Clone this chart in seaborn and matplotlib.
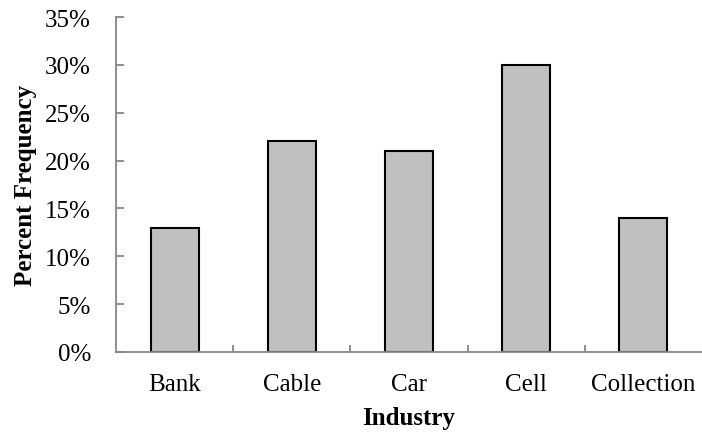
import matplotlib
matplotlib.use("Agg")
import matplotlib.pyplot as plt
import seaborn as sns
import pandas as pd
from matplotlib.ticker import FixedLocator, FuncFormatter

categories = ["Bank", "Cable", "Car", "Cell", "Collection"]
values = [13, 22, 21, 30, 14]
y_ticks = [0, 5, 10, 15, 20, 25, 30, 35]

sns.set_theme(style="white")
plt.rcParams["font.family"] = ["Liberation Serif", "DejaVu Serif"]
plt.rcParams["text.color"] = "black"
plt.rcParams["axes.labelcolor"] = "black"

df = pd.DataFrame({"Industry": categories, "Percent": values})

fig = plt.figure(figsize=(7.02, 4.35), dpi=100)
ax = fig.add_axes([116/702, 82/435, 1 - 116/702, (353-18)/435])

sns.barplot(data=df, x="Industry", y="Percent", color="#C0C0C0",
            edgecolor="black", linewidth=1.5, width=0.41, saturation=1, ax=ax)

ax.set_xlim(-0.5, 4.5)
ax.set_ylim(0, 35)
ax.set_yticks(y_ticks)
ax.yaxis.set_major_formatter(FuncFormatter(lambda v, p: f"{int(v)}%"))

for s in ["top", "right"]:
    ax.spines[s].set_visible(False)
for s in ["left", "bottom"]:
    ax.spines[s].set_color("#868686")
    ax.spines[s].set_linewidth(1.3)

ax.tick_params(axis="y", direction="in", length=6, width=1.3, color="#868686",
               labelsize=18, pad=18, left=True, labelcolor="black")
ax.tick_params(axis="x", which="major", length=0, labelsize=18, pad=15, labelcolor="black")
ax.xaxis.set_minor_locator(FixedLocator([0.5, 1.5, 2.5, 3.5]))
ax.tick_params(axis="x", which="minor", direction="in", length=5, width=1.3,
               color="#868686", bottom=True)

ax.set_xlabel("Industry", fontsize=18, fontweight="bold", color="black")
ax.set_ylabel("Percent Frequency", fontsize=18, fontweight="bold", color="black")
ax.xaxis.set_label_coords(0.5, -0.16)
ax.yaxis.set_label_coords(-0.135, 0.5)

fig.savefig("out.png", dpi=100)
